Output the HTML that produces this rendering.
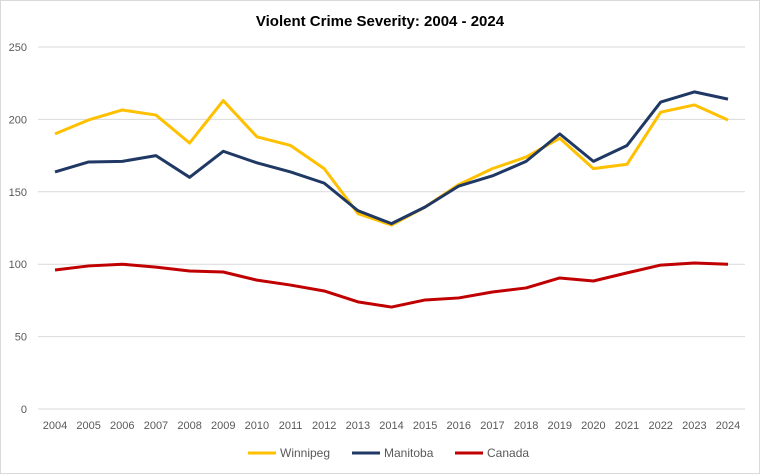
<!DOCTYPE html>
<html><head><meta charset="utf-8">
<style>
body{margin:0;background:#fff;}
svg{display:block;font-family:"Liberation Sans",Calibri,sans-serif;}
</style></head>
<body>
<svg id="chart" width="760" height="474" viewBox="0 0 760 474">
<rect x="0.5" y="0.5" width="759" height="473" fill="#fff" stroke="#d9d9d9"/>
<text x="380" y="26" text-anchor="middle" font-size="15" font-weight="bold" fill="#000">Violent Crime Severity: 2004 - 2024</text>
<g id="grid"></g><g id="yticks"></g><g id="xticks"></g><g id="series"></g><g id="legend"></g>
</svg>
<script>
const years=[2004,2005,2006,2007,2008,2009,2010,2011,2012,2013,2014,2015,2016,2017,2018,2019,2020,2021,2022,2023,2024];
const winnipeg=[190,199.6,206.5,203,183.7,213,188,182,166,135,127,139.5,155,166,174,187,166,169,205,210,199.6];
const manitoba=[163.7,170.6,171,175,160,178,170,163.7,156,137,128,139.5,154,161,171,190,171,182,212,219,214];
const canada=[96,98.8,100,98,95.3,94.6,89,85.6,81.5,74,70.4,75.3,76.7,80.8,83.6,90.5,88.4,94,99.4,100.8,100];
const yTicks=[0,50,100,150,200,250];
const seriesNames=["Winnipeg","Manitoba","Canada"];
const seriesColors=["#ffc000","#1f3864","#c00000"];
const NS="http://www.w3.org/2000/svg";
const x0=55,x1=728,y0=409,y1=47;
const xs=i=>x0+(x1-x0)*i/(years.length-1);
const ys=v=>y0-(y0-y1)*v/250;
function mk(tag,attrs,parent){const e=document.createElementNS(NS,tag);for(const k in attrs)e.setAttribute(k,attrs[k]);parent.appendChild(e);return e;}
const grid=document.getElementById('grid'),yt=document.getElementById('yticks'),xt=document.getElementById('xticks'),ser=document.getElementById('series'),leg=document.getElementById('legend');
yTicks.forEach(v=>{
 const l=mk('line',{x1:38,x2:745,y1:ys(v),y2:ys(v),stroke:'#d9d9d9','stroke-width':1},grid);
 
 
 const t=mk('text',{x:27,y:ys(v)+4,'text-anchor':'end','font-size':11,fill:'#595959'},yt);
 t.textContent=v;
 
 
});
years.forEach((y,i)=>{
 const t=mk('text',{x:xs(i),y:429,'text-anchor':'middle','font-size':11,fill:'#595959'},xt);
 t.textContent=y;
 
 
});
[winnipeg,manitoba,canada].forEach((d,si)=>{
 const p=mk('polyline',{points:d.map((v,i)=>xs(i)+','+ys(v)).join(' '),fill:'none',stroke:seriesColors[si],'stroke-width':3,'stroke-linejoin':'round'},ser);
 
 
});
const lx=[248,352,455];
seriesNames.forEach((n,i)=>{
 const g=mk('g',{},leg);
 
 
 mk('line',{x1:lx[i],x2:lx[i]+28,y1:453,y2:453,stroke:seriesColors[i],'stroke-width':3},g);
 const t=mk('text',{x:lx[i]+32,y:457,'font-size':12,fill:'#595959'},g);
 t.textContent=n;
});
</script>
</body></html>
